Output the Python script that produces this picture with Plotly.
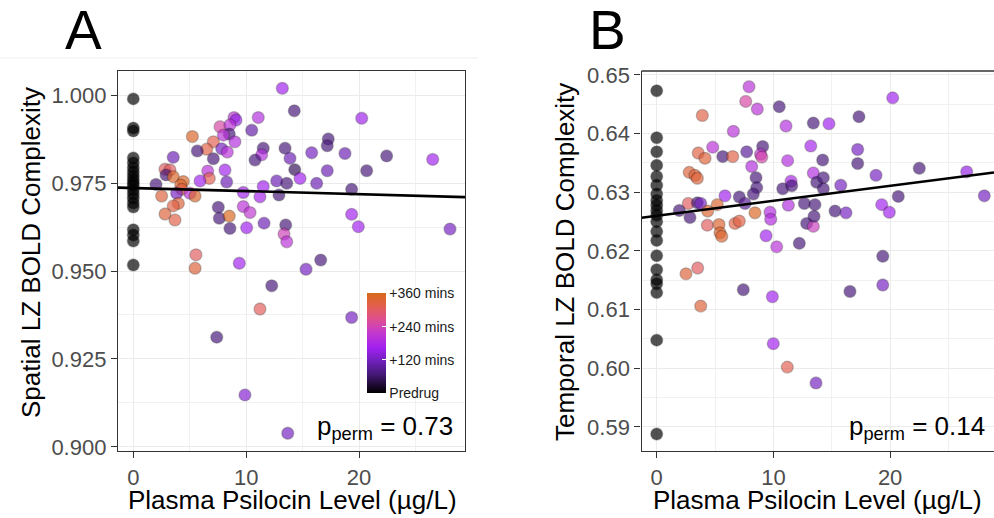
import plotly.graph_objects as go

W, H = 994, 518
FONT = "Liberation Sans, Arial, sans-serif"

# ---------------- data ----------------
# time code: 0 = Predrug ... 360 = +360 mins
a_pre_complexity = [0.9989, 0.9906, 0.9898, 0.9821, 0.9807, 0.9793, 0.9781, 0.9770,
                    0.9759, 0.9750, 0.9742, 0.9730, 0.9719, 0.9707, 0.9693, 0.9682,
                    0.9617, 0.9602, 0.9585, 0.9517]
a_psilocin = [13.2, 14.26, 8.92, 9.1, 11.07, 7.68, 8.56, 8.5, 7.98, 10.49,
              9.0, 5.23, 7.09, 6.5, 5.67, 7.83, 8.33, 7.09, 3.54, 11.51,
              11.37, 10.78, 13.44, 13.88, 14.3, 2.81, 3.25, 2.9, 3.54, 4.43,
              2.01, 6.59, 6.73, 5.91, 8.12, 8.27, 4.2, 4.29, 3.84, 5.02,
              5.47, 2.51, 3.99, 3.54, 2.81, 3.69, 7.53, 7.62, 8.5, 8.56,
              9.74, 9.74, 10.34, 10.04, 11.51, 11.22, 11.58, 12.7, 13.59, 12.9,
              13.5, 13.35, 13.59, 5.55, 5.47, 9.39, 20.23, 17.27, 17.18, 15.8,
              18.75, 22.44, 26.52, 14.77, 17.18, 16.24, 20.67, 19.34, 19.34, 19.93,
              28.05, 16.6, 15.3, 12.26, 11.22, 19.34, 7.39, 9.89, 13.68]
a_complexity = [1.0019, 0.9955, 0.9936, 0.9929, 0.9936, 0.9910, 0.9915, 0.9889, 0.9886, 0.9900,
                0.9867, 0.9882, 0.9867, 0.9846, 0.9841, 0.9847, 0.9838, 0.9819, 0.9823, 0.9849,
                0.9830, 0.9815, 0.9849, 0.9820, 0.9788, 0.9789, 0.9787, 0.9773, 0.9768, 0.9754,
                0.9746, 0.9784, 0.9763, 0.9756, 0.9787, 0.9753, 0.9744, 0.9732, 0.9721, 0.9721,
                0.9713, 0.9713, 0.9692, 0.9685, 0.9662, 0.9645, 0.9681, 0.9650, 0.9656, 0.9621,
                0.9723, 0.9683, 0.9666, 0.9623, 0.9740, 0.9711, 0.9636, 0.9756, 0.9749, 0.9716,
                0.9631, 0.9605, 0.9583, 0.9546, 0.9508, 0.9522, 0.9934, 0.9875, 0.9856, 0.9836,
                0.9834, 0.9827, 0.9817, 0.9763, 0.9785, 0.9749, 0.9785, 0.9732, 0.9661, 0.9626,
                0.9619, 0.9531, 0.9505, 0.9458, 0.9392, 0.9368, 0.9312, 0.9148, 0.9039]
a_time = [165, 70, 200, 150, 190, 250, 200, 70, 200, 100,
          190, 345, 310, 320, 70, 120, 200, 70, 110, 70,
          190, 70, 70, 110, 50, 300, 300, 70, 345, 345,
          70, 200, 310, 165, 165, 110, 345, 320, 120, 200,
          345, 330, 330, 320, 330, 320, 70, 70, 355, 70,
          165, 200, 210, 165, 165, 170, 110, 110, 70, 70,
          70, 235, 200, 300, 330, 165, 165, 70, 70, 120,
          110, 70, 165, 165, 110, 110, 70, 70, 165, 165,
          120, 70, 120, 70, 305, 120, 70, 135, 120]

b_pre_complexity = [0.6473, 0.6393, 0.6369, 0.6346, 0.6327, 0.6312, 0.6297, 0.6286,
                    0.6278, 0.6269, 0.6261, 0.6250, 0.6233, 0.6218, 0.6192, 0.6168,
                    0.6151, 0.6144, 0.6129, 0.6048, 0.5888]
b_psilocin = [7.91, 7.63, 8.62, 10.5, 3.91, 6.57, 11.08, 13.42, 4.8, 3.56,
              4.14, 5.66, 6.51, 7.71, 9.08, 8.9, 9.0, 8.14, 11.22, 13.2,
              2.79, 3.28, 3.48, 8.51, 8.57, 8.28, 10.8, 11.51, 11.57, 13.42,
              13.71, 5.85, 7.08, 1.94, 2.85, 2.71, 3.48, 3.77, 4.37, 5.19,
              7.57, 8.42, 9.71, 9.77, 11.28, 12.65, 13.56, 12.85, 13.42, 13.48,
              4.34, 5.34, 5.42, 5.57, 6.71, 7.08, 9.37, 10.28, 12.22, 20.22,
              17.33, 14.76, 17.22, 14.22, 17.22, 14.28, 14.28, 15.77, 18.79, 22.5,
              26.56, 28.07, 20.7, 19.28, 19.93, 15.28, 16.22, 19.37, 2.51, 3.51,
              3.77, 7.42, 9.91, 16.56, 19.37, 9.99, 11.19, 13.65]
b_complexity = [0.6480, 0.6455, 0.6442, 0.6446, 0.6431, 0.6404, 0.6413, 0.6418, 0.6377, 0.6367,
                0.6358, 0.6361, 0.6361, 0.6369, 0.6378, 0.6365, 0.6360, 0.6344, 0.6354, 0.6379,
                0.6334, 0.6329, 0.6324, 0.6325, 0.6308, 0.6297, 0.6306, 0.6319, 0.6311, 0.6333,
                0.6317, 0.6294, 0.6292, 0.6269, 0.6257, 0.6281, 0.6282, 0.6281, 0.6268, 0.6279,
                0.6281, 0.6265, 0.6266, 0.6254, 0.6278, 0.6281, 0.6279, 0.6247, 0.6242, 0.6259,
                0.6244, 0.6245, 0.6231, 0.6225, 0.6247, 0.6251, 0.6226, 0.6207, 0.6213, 0.6461,
                0.6429, 0.6417, 0.6373, 0.6355, 0.6349, 0.6325, 0.6306, 0.6312, 0.6329, 0.6341,
                0.6335, 0.6294, 0.6293, 0.6279, 0.6266, 0.6268, 0.6265, 0.6191, 0.6161, 0.6171,
                0.6106, 0.6134, 0.6122, 0.6131, 0.6142, 0.6042, 0.6002, 0.5975]
b_time = [200, 250, 200, 70, 320, 200, 190, 70, 200, 320,
          330, 70, 320, 90, 70, 210, 245, 190, 190, 170,
          330, 330, 330, 70, 70, 70, 70, 175, 70, 190,
          70, 165, 70, 70, 70, 300, 70, 120, 340, 340,
          90, 350, 190, 190, 190, 70, 70, 70, 230, 70,
          300, 340, 340, 340, 320, 320, 165, 200, 70, 165,
          70, 165, 120, 70, 70, 70, 70, 120, 120, 70,
          150, 120, 70, 165, 165, 70, 120, 70, 330, 300,
          330, 70, 165, 70, 120, 165, 310, 120]

# linear fits (intercept, slope)
a_fit = (0.97358, -0.000088)
b_fit = (0.62600, 0.000255)
a_p_label = "0.73"
b_p_label = "0.14"

time_ticks = [0, 120, 240, 360]
time_labels = ["Predrug", "+120 mins", "+240 mins", "+360 mins"]

# ---------------- layout geometry (pixels) ----------------
A_X = (118, 465)
B_X = (641.5, 994)
P_Y = (71, 451)
a_xrange = [-1.355, 29.38]
a_yrange = [0.89886, 1.00682]
b_xrange = [-1.302, 28.90]
b_yrange = [0.5859, 0.65068]

colorscale = [
    [0.0, "#000000"],
    [0.19, "#461878"],
    [0.32, "#7020bc"],
    [0.45, "#a020f0"],
    [0.62, "#c83cc8"],
    [0.75, "#e0508a"],
    [0.87, "#e2604e"],
    [1.0, "#d86818"],
]

fig = go.Figure()

def add_points(x, y, t, xa, ya):
    fig.add_trace(go.Scatter(
        x=x, y=y, mode="markers", xaxis=xa, yaxis=ya, showlegend=False,
        marker=dict(size=12, color=t, coloraxis="coloraxis", opacity=0.68,
                    line=dict(width=1.3, color="rgba(0,0,0,0.33)")),
    ))

add_points([0] * len(a_pre_complexity) + a_psilocin,
           a_pre_complexity + a_complexity,
           [0] * len(a_pre_complexity) + a_time, "x", "y")
add_points([0] * len(b_pre_complexity) + b_psilocin,
           b_pre_complexity + b_complexity,
           [0] * len(b_pre_complexity) + b_time, "x2", "y2")

for fit, xr, xa, ya in [(a_fit, a_xrange, "x", "y"), (b_fit, b_xrange, "x2", "y2")]:
    fig.add_trace(go.Scatter(
        x=xr, y=[fit[0] + fit[1] * v for v in xr], mode="lines",
        xaxis=xa, yaxis=ya, showlegend=False,
        line=dict(color="black", width=2.6),
    ))

grid_major = "#ebebeb"
grid_minor = "#f1f1f1"
axis_common = dict(
    showgrid=True, gridcolor=grid_major, gridwidth=1.4, zeroline=False,
    showline=True, linecolor="#333333", linewidth=1.3,
    ticks="outside", ticklen=6, tickwidth=1.3, tickcolor="#333333",
    tickfont=dict(family=FONT, size=22, color="#4d4d4d"),
    tickmode="linear", automargin=False,
)

def dom(a, b, total):
    return [a / total, b / total]

ydom = [1 - P_Y[1] / H, 1 - P_Y[0] / H]

fig.update_layout(
    width=W, height=H, margin=dict(l=0, r=0, t=0, b=0, pad=0, autoexpand=False),
    paper_bgcolor="white", plot_bgcolor="white",
    xaxis=dict(axis_common, domain=dom(*A_X, W), range=a_xrange, tick0=0, dtick=10,
               mirror=True, anchor="y",
               minor=dict(tick0=0, dtick=5, showgrid=True, gridcolor=grid_minor, gridwidth=1.2, ticks="")),
    yaxis=dict(axis_common, domain=ydom, range=a_yrange, tick0=0.9, dtick=0.025, tickformat=".3f",
               mirror=True, anchor="x",
               minor=dict(tick0=0.9, dtick=0.0125, showgrid=True, gridcolor=grid_minor, gridwidth=1.2, ticks="")),
    xaxis2=dict(axis_common, domain=dom(*B_X, W), range=b_xrange, tick0=0, dtick=10,
                anchor="y2",
                minor=dict(tick0=0, dtick=5, showgrid=True, gridcolor=grid_minor, gridwidth=1.2, ticks="")),
    yaxis2=dict(axis_common, domain=ydom, range=b_yrange, tick0=0.59, dtick=0.01, tickformat=".2f",
                anchor="x2",
                minor=dict(tick0=0.59, dtick=0.005, showgrid=True, gridcolor=grid_minor, gridwidth=1.2, ticks="")),
    coloraxis=dict(
        colorscale=colorscale, cmin=0, cmax=360,
        colorbar=dict(
            x=(367 - 5) / W, xanchor="left", y=(H - 393.3 - 5) / H, yanchor="bottom",
            lenmode="pixels", len=110, thickness=19, thicknessmode="pixels",
            xpad=5, ypad=5, bgcolor="white", outlinewidth=0,
            tickmode="array", tickvals=time_ticks, ticktext=time_labels,
            ticks="inside", ticklen=4, tickcolor="white", tickwidth=1,
            tickfont=dict(family=FONT, size=14, color="#1a1a1a"),
        ),
    ),
)

# top border of panel B (right side is cut off in the original)
fig.add_shape(type="line", xref="paper", yref="paper",
              x0=B_X[0] / W, x1=1, y0=1 - P_Y[0] / H, y1=1 - P_Y[0] / H,
              line=dict(color="#333333", width=1.3))
# faint frame line above panel A
fig.add_shape(type="line", xref="paper", yref="paper",
              x0=0, x1=478 / W, y0=1 - 58 / H, y1=1 - 58 / H,
              line=dict(color="#eeeeee", width=1))

def ann(text, xpx, ypx, size, angle=0, xanchor="center", yanchor="middle", color="black"):
    fig.add_annotation(text=text, x=xpx / W, y=1 - ypx / H, xref="paper", yref="paper",
                       showarrow=False, textangle=angle, xanchor=xanchor, yanchor=yanchor,
                       font=dict(family=FONT, size=size, color=color))

ann("A", 83.5, 30, 55)
ann("B", 607, 30, 55)
ann("Spatial LZ BOLD Complexity", 31, 253, 26, angle=-90)
ann("Temporal LZ BOLD Complexity", 565, 262, 26, angle=-90)
ann("Plasma Psilocin Level (µg/L)", 292.5, 500, 26)
ann("Plasma Psilocin Level (µg/L)", 817, 500, 26)
ann("p<sub>perm</sub> = " + a_p_label, 455, 427, 26, xanchor="right")
ann("p<sub>perm</sub> = " + b_p_label, 987, 427, 26, xanchor="right")

fig.write_html("out.html", config={"displayModeBar": False},
               post_script="document.body.style.margin='0px';document.body.style.overflow='hidden';")
